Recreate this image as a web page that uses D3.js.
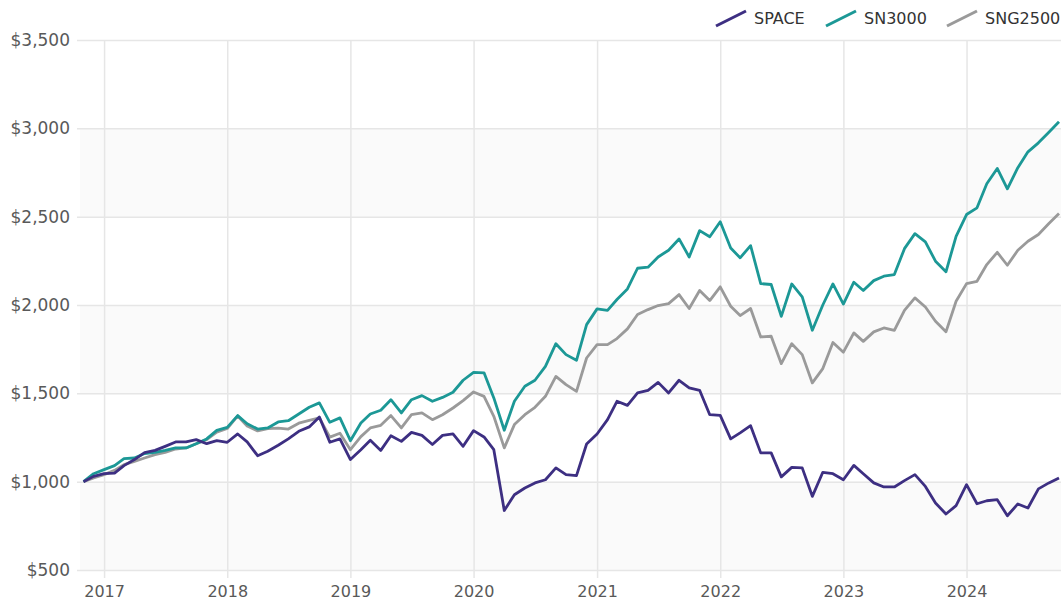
<!DOCTYPE html>
<html>
<head>
<meta charset="utf-8">
<script src="https://cdn.jsdelivr.net/npm/d3@7"></script>
<style>
  body { margin: 0; background: #fff; }
  text { font-family: "DejaVu Sans", Verdana, sans-serif; }
</style>
</head>
<body>
<div id="container"></div>
<script>
let w = 1061;
let h = 603;

// monthly, Nov 2016 .. Oct 2024
let startMonth = "2016-11";
let seriesNames = ["SPACE", "SN3000", "SNG2500"];
let seriesColors = ["#3d2f82", "#1c9896", "#9a9a9a"];

let spaceValues = [
  1000, 1030, 1045, 1048, 1091, 1125, 1164, 1177, 1200, 1225, 1225, 1238,
  1215, 1232, 1223, 1270, 1225, 1147, 1172, 1206, 1242, 1285, 1310, 1366,
  1223, 1242, 1125, 1181, 1234, 1177, 1260, 1228, 1279, 1262, 1210, 1262,
  1270, 1200, 1289, 1253, 1181, 837, 926, 964, 993, 1011, 1078, 1040,
  1034, 1213, 1270, 1351, 1455, 1432, 1502, 1517, 1562, 1502, 1574, 1531,
  1517, 1379, 1375, 1242, 1276, 1317, 1163, 1163, 1027, 1081, 1078, 917,
  1053, 1045, 1011, 1092, 1045, 993, 970, 970, 1006, 1040, 973, 879,
  817, 864, 983, 875, 892, 898, 807, 874, 851, 959, 993, 1021
];

let sn3000Values = [
  1000, 1045, 1068, 1091, 1130, 1134, 1159, 1166, 1177, 1191, 1191, 1215,
  1242, 1290, 1307, 1374, 1328, 1298, 1304, 1338, 1345, 1383, 1421, 1446,
  1336, 1361, 1232, 1332, 1383, 1404, 1464, 1389, 1464, 1487, 1455, 1477,
  1506, 1574, 1619, 1616, 1474, 1291, 1455, 1540, 1574, 1653, 1781, 1719,
  1687, 1889, 1978, 1970, 2031, 2091, 2208, 2214, 2272, 2310, 2374, 2272,
  2421, 2386, 2471, 2323, 2267, 2336, 2121, 2116, 1936, 2119, 2046, 1857,
  2000, 2119, 2005, 2129, 2082, 2138, 2163, 2172, 2319, 2404, 2357, 2248,
  2188, 2389, 2512, 2550, 2686, 2773, 2658, 2777, 2867, 2918, 2978, 3037
];

let sng2500Values = [
  1000, 1021, 1040, 1064, 1096, 1115, 1134, 1153, 1166, 1185, 1191, 1215,
  1238, 1280, 1301, 1372, 1315, 1287, 1300, 1303, 1298, 1331, 1347, 1361,
  1252, 1274, 1181, 1255, 1304, 1319, 1374, 1304, 1379, 1389, 1351, 1379,
  1417, 1459, 1508, 1483, 1370, 1191, 1323, 1379, 1421, 1483, 1596, 1549,
  1511, 1700, 1776, 1776, 1810, 1865, 1946, 1974, 1997, 2008, 2059, 1980,
  2082, 2025, 2103, 1993, 1940, 1980, 1819, 1823, 1668, 1781, 1719, 1559,
  1640, 1788, 1733, 1842, 1794, 1848, 1870, 1857, 1970, 2040, 1989, 1908,
  1848, 2021, 2121, 2134, 2229, 2298, 2225, 2310, 2361, 2399, 2461, 2518
];

let yTicks = [500, 1000, 1500, 2000, 2500, 3000, 3500];
let xTickYears = [2017, 2018, 2019, 2020, 2021, 2022, 2023, 2024];

let parseMonth = d3.timeParse("%Y-%m");
let firstDate = parseMonth(startMonth);
let dates = spaceValues.map(function (v, i) {
  return d3.timeMonth.offset(firstDate, i);
});

let allSeries = [spaceValues, sn3000Values, sng2500Values].map(function (vals, k) {
  return {
    name: seriesNames[k],
    color: seriesColors[k],
    points: vals.map(function (v, i) { return { date: dates[i], value: v }; })
  };
});

let viz = d3.select("#container")
  .append("svg")
  .attr("width", w)
  .attr("height", h)
  .style("display", "block")
  ;

let plotLeft = 80;
let plotRight = w;

let xScale = d3.scaleTime()
  .domain([dates[0], dates[dates.length - 1]])
  .range([83.5, 1059]);

let yScale = d3.scaleLinear().domain([500, 3500]).range([570, 40]);

// alternating bands
let bands = d3.pairs(yTicks).filter(function (p, i) { return i % 2 == 0; });
viz.append("g").selectAll("rect").data(bands).enter()
  .append("rect")
  .attr("x", plotLeft)
  .attr("width", plotRight - plotLeft)
  .attr("y", function (d) { return yScale(d[1]); })
  .attr("height", function (d) { return yScale(d[0]) - yScale(d[1]); })
  .attr("fill", "#fafafa")
  ;

// Y AXIS
let yAxis = d3.axisLeft(yScale)
  .tickValues(yTicks)
  .tickSize(-(plotRight - plotLeft) - 3)
  .tickPadding(7)
  .tickFormat(function (d) { return "$" + d3.format(",")(d); });
let yAxisGroup = viz.append("g").attr("class", "yaxis")
  .attr("transform", "translate(" + (plotLeft - 3) + ", 0)")
  .call(yAxis);
yAxisGroup.select(".domain").remove();
yAxisGroup.selectAll("line").attr("stroke", "#e6e6e6").attr("stroke-width", 1.5);
yAxisGroup.selectAll("text")
  .attr("fill", "#595959")
  .style("font-size", "17px");

// X AXIS
let xAxis = d3.axisBottom(xScale)
  .tickValues(xTickYears.map(function (y) { return new Date(y, 0, 1); }))
  .tickSize(-(570 - 40) - 8)
  .tickFormat(d3.timeFormat("%Y"));
let xAxisGroup = viz.append("g").attr("class", "xaxis")
  .attr("transform", "translate(0, 578)")
  .call(xAxis);
xAxisGroup.select(".domain").remove();
xAxisGroup.selectAll("line").attr("stroke", "#e6e6e6").attr("stroke-width", 1.5);
xAxisGroup.selectAll("text")
  .attr("fill", "#595959")
  .attr("y", 19)
  .attr("dy", 0)
  .style("font-size", "16px");

// LINES
let lineMaker = d3.line()
  .x(function (d) { return xScale(d.date); })
  .y(function (d) { return yScale(d.value); });

let drawOrder = [2, 1, 0];
viz.append("g").attr("class", "lines").selectAll("path")
  .data(drawOrder.map(function (k) { return allSeries[k]; })).enter()
  .append("path")
  .attr("d", function (d) { return lineMaker(d.points); })
  .attr("fill", "none")
  .attr("stroke", function (d) { return d.color; })
  .attr("stroke-width", 2.8)
  .attr("stroke-linejoin", "round")
  ;

// LEGEND
let legendX = [715, 825, 946];
let legendGroups = viz.append("g").attr("class", "legend").selectAll("g")
  .data(allSeries).enter()
  .append("g")
  .attr("transform", function (d, i) { return "translate(" + legendX[i] + ", 0)"; })
  ;
legendGroups.append("line")
  .attr("x1", 1).attr("y1", 26)
  .attr("x2", 31).attr("y2", 11)
  .attr("stroke", function (d) { return d.color; })
  .attr("stroke-width", 3)
  ;
legendGroups.append("text")
  .attr("x", 39)
  .attr("y", 24)
  .attr("fill", "#333")
  .style("font-size", "16px")
  .text(function (d) { return d.name; })
  ;
</script>
</body>
</html>
